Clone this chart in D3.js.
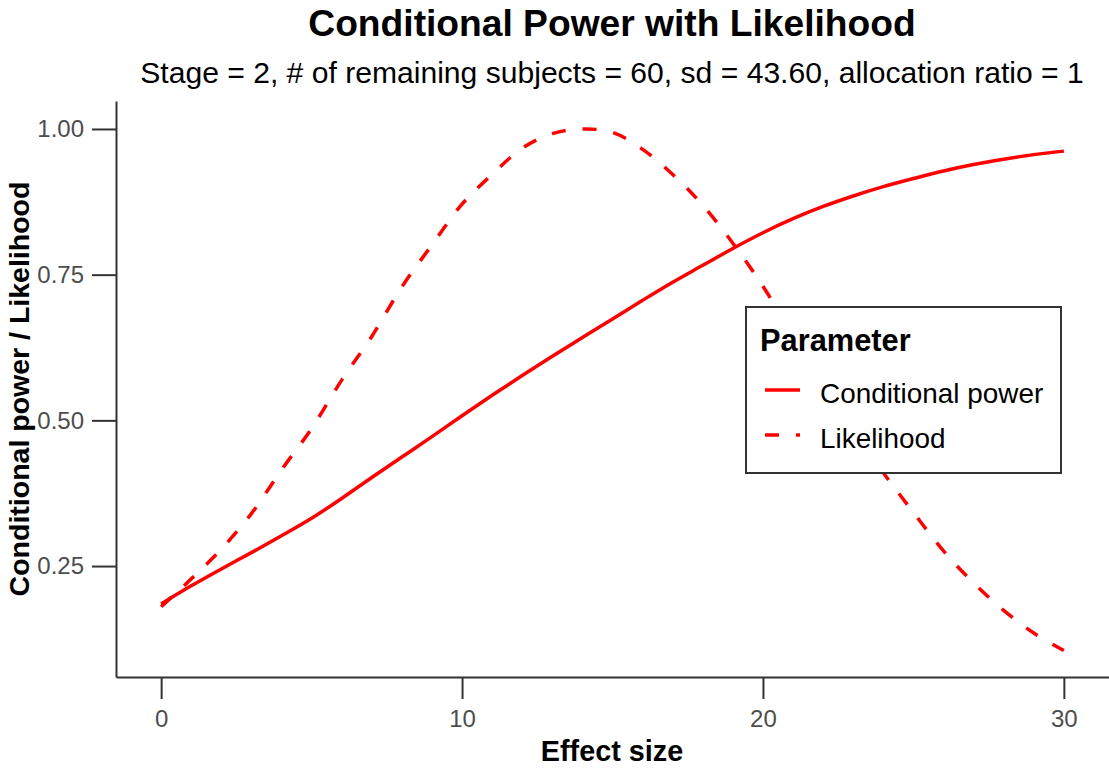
<!DOCTYPE html>
<html>
<head>
<meta charset="utf-8">
<script src="https://cdn.jsdelivr.net/npm/d3@7"></script>
<style>
  body { margin: 0; background: #ffffff; }
  svg { display: block; }
  text { font-family: "Liberation Sans", Arial, Helvetica, sans-serif; }
</style>
</head>
<body>
<svg id="chart" width="1109" height="769"></svg>
<script>
// ---- Data ----
const effectSize = [0, 1, 2, 3, 4, 5, 6, 7, 8, 9, 10, 11, 12, 13, 14, 15,
                    16, 17, 18, 19, 20, 21, 22, 23, 24, 25, 26, 27, 28, 29, 30];
const conditionalPower = [0.185, 0.216, 0.245, 0.273, 0.302, 0.332, 0.366, 0.402, 0.437, 0.472,
                          0.508, 0.543, 0.577, 0.610, 0.642, 0.674, 0.706, 0.737, 0.766, 0.795,
                          0.822, 0.846, 0.867, 0.885, 0.901, 0.915, 0.928, 0.939, 0.948, 0.956, 0.962];
const likelihood = [0.180, 0.228, 0.279, 0.340, 0.415, 0.486, 0.569, 0.644, 0.729, 0.801,
                    0.871, 0.922, 0.967, 0.992, 1.000, 0.994, 0.965, 0.922, 0.869, 0.804,
                    0.730, 0.645, 0.563, 0.483, 0.410, 0.342, 0.276, 0.221, 0.174, 0.135, 0.105];
const seriesNames = ["Conditional power", "Likelihood"];
const xTicks = [0, 10, 20, 30];
const yTicks = [0.25, 0.50, 0.75, 1.00];
const titleText = "Conditional Power with Likelihood";
const subtitleText = "Stage = 2, # of remaining subjects = 60, sd = 43.60, allocation ratio = 1";
const xLabel = "Effect size";
const yLabel = "Conditional power / Likelihood";
const legendTitle = "Parameter";

// ---- Layout ----
const panel = { left: 116, right: 1109, top: 101, bottom: 677 };
const svg = d3.select("#chart");
const lineColor = "#FF0000";
const axisColor = "#333333";
const dashPattern = "14,17";

const x = d3.scaleLinear().domain([-1.5, 31.5]).range([panel.left, panel.right]);
const y = d3.scaleLinear().domain([0.0596, 1.048]).range([panel.bottom, panel.top]);

// Title & subtitle
const cx = (116 + 1108) / 2;
svg.append("text").attr("x", cx).attr("y", 36).attr("text-anchor", "middle")
  .attr("font-size", 37.2).attr("font-weight", "bold").attr("fill", "#000").text(titleText);
svg.append("text").attr("x", cx).attr("y", 83).attr("text-anchor", "middle")
  .attr("font-size", 30.1).attr("fill", "#000").text(subtitleText);

// Series lines
const series = [
  { name: seriesNames[0], values: conditionalPower, dash: null },
  { name: seriesNames[1], values: likelihood, dash: dashPattern }
];
const line = d3.line()
  .x(d => x(d[0]))
  .y(d => y(d[1]))
  .curve(d3.curveCatmullRom.alpha(0.5));

svg.append("g").selectAll("path").data(series).join("path")
  .attr("d", s => line(effectSize.map((e, i) => [e, s.values[i]])))
  .attr("fill", "none")
  .attr("stroke", lineColor)
  .attr("stroke-width", 3.5)
  .attr("stroke-dasharray", s => s.dash)
  .attr("stroke-linejoin", "round");

// Axes
const xAxis = d3.axisBottom(x).tickValues(xTicks).tickFormat(d3.format("d"))
  .tickSize(22).tickSizeOuter(0).tickPadding(11);
const yAxis = d3.axisLeft(y).tickValues(yTicks).tickFormat(d3.format(".2f"))
  .tickSize(24).tickSizeOuter(0).tickPadding(8);

const gx = svg.append("g").attr("transform", `translate(0,${panel.bottom})`).call(xAxis);
const gy = svg.append("g").attr("transform", `translate(${panel.left},0)`).call(yAxis);
[gx, gy].forEach(g => {
  g.select(".domain").attr("stroke", axisColor).attr("stroke-width", 2);
  g.selectAll(".tick line").attr("stroke", axisColor).attr("stroke-width", 2);
  g.selectAll(".tick text").attr("fill", "#4D4D4D").attr("font-size", 24)
    .attr("font-family", "'Liberation Sans', Arial, sans-serif");
});

// Axis titles
svg.append("text").attr("x", cx).attr("y", 761).attr("text-anchor", "middle")
  .attr("font-size", 28.8).attr("font-weight", "bold").attr("fill", "#000").text(xLabel);
svg.append("text")
  .attr("transform", `translate(29,${(panel.top + panel.bottom) / 2}) rotate(-90)`)
  .attr("text-anchor", "middle")
  .attr("font-size", 28.5).attr("font-weight", "bold").attr("fill", "#000").text(yLabel);

// Legend
const lg = svg.append("g");
lg.append("rect").attr("x", 746).attr("y", 307).attr("width", 315).attr("height", 166)
  .attr("fill", "#ffffff").attr("stroke", axisColor).attr("stroke-width", 2);
lg.append("text").attr("x", 760).attr("y", 351).attr("font-size", 30.8)
  .attr("font-weight", "bold").attr("fill", "#000").text(legendTitle);
const keyY = [390, 435];
const items = lg.selectAll("g.item").data(series).join("g").attr("class", "item");
items.append("line")
  .attr("x1", 765).attr("x2", 800)
  .attr("y1", (d, i) => keyY[i]).attr("y2", (d, i) => keyY[i])
  .attr("stroke", lineColor).attr("stroke-width", 3.5)
  .attr("stroke-dasharray", d => d.dash);
items.append("text")
  .attr("x", 820).attr("y", (d, i) => keyY[i] + 13)
  .attr("font-size", 27.9).attr("fill", "#000")
  .text(d => d.name);
</script>
</body>
</html>
